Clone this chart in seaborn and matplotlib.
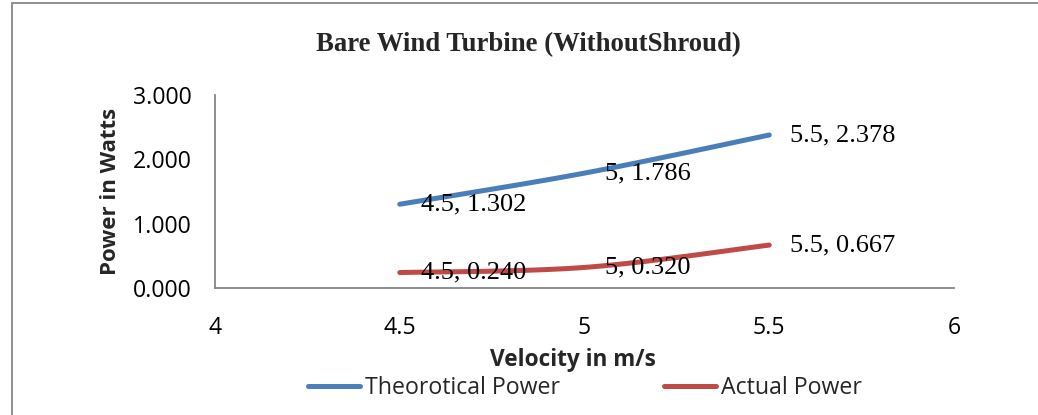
import numpy as np
import pandas as pd
import matplotlib
matplotlib.use("Agg")
import matplotlib.pyplot as plt
import seaborn as sns
from matplotlib.lines import Line2D
from matplotlib.patches import Rectangle

# ---- data ----
velocity = [4.5, 5.0, 5.5]
theoretical_power = [1.302, 1.786, 2.378]
actual_power = [0.240, 0.320, 0.667]
theoretical_labels = ["4.5, 1.302", "5, 1.786", "5.5, 2.378"]
actual_labels = ["4.5, 0.240", "5, 0.320", "5.5, 0.667"]
series_names = ["Theorotical Power", "Actual Power"]
x_ticks = [4, 4.5, 5, 5.5, 6]
x_tick_labels = ["4", "4.5", "5", "5.5", "6"]
y_ticks = [0, 1, 2, 3]
y_tick_labels = ["0.000", "1.000", "2.000", "3.000"]

BLUE = "#4A7EBB"
RED = "#BE4B48"
GRAY = "#868686"


def smooth(xs, ys, n=40):
    """Excel-style smoothed line rendering (Bezier through the data points)."""
    P = np.column_stack([xs, ys]).astype(float)
    ext = np.vstack([P[0], P, P[-1]])
    out = []
    t = np.linspace(0, 1, n)[:, None]
    for i in range(len(P) - 1):
        p0, p1 = P[i], P[i + 1]
        c1 = p0 + (ext[i + 2] - ext[i]) / 6.0
        c2 = p1 - (ext[i + 3] - ext[i + 1]) / 6.0
        seg = ((1 - t) ** 3) * p0 + 3 * ((1 - t) ** 2) * t * c1 + 3 * (1 - t) * t ** 2 * c2 + t ** 3 * p1
        out.append(seg if i == 0 else seg[1:])
    arr = np.vstack(out)
    return arr[:, 0], arr[:, 1]


sns.set_theme(style="white")
plt.rcParams["font.family"] = ["Open Sans", "DejaVu Sans"]

fig = plt.figure(figsize=(10.38, 4.15), dpi=100)
ax = fig.add_axes([215 / 1038, 1 - 288 / 415, (954 - 215) / 1038, (288 - 95) / 415])

frames = []
for name, ys in zip(series_names, [theoretical_power, actual_power]):
    sx, sy = smooth(velocity, ys)
    frames.append(pd.DataFrame({"x": sx, "y": sy, "series": name, "order": np.arange(len(sx))}))
df = pd.concat(frames, ignore_index=True)

sns.lineplot(data=df, x="x", y="y", hue="series", palette=[BLUE, RED], sort=False,
             linewidth=3.6, ax=ax, legend=False, solid_capstyle="round")

for ys, labs in [(theoretical_power, theoretical_labels), (actual_power, actual_labels)]:
    for xv, yv, lab in zip(velocity, ys, labs):
        ax.annotate(lab, (xv, yv), xytext=(15, 0), textcoords="offset points",
                    ha="left", va="center", fontsize=19, family="Liberation Serif", color="black")

ax.set_xlim(4, 6)
ax.set_ylim(0, 3)
ax.set_xticks(x_ticks)
ax.set_xticklabels(x_tick_labels)
ax.set_yticks(y_ticks)
ax.set_yticklabels(y_tick_labels)
ax.tick_params(axis="both", direction="out", length=7, width=1.3, color=GRAY,
               labelsize=16.7, labelcolor="black", pad=10)
ax.tick_params(axis="x", pad=13)
for s in ["top", "right"]:
    ax.spines[s].set_visible(False)
for s in ["left", "bottom"]:
    ax.spines[s].set_color(GRAY)
    ax.spines[s].set_linewidth(1.3)
ax.grid(False)

ax.set_xlabel("Velocity in m/s", fontsize=16.3, fontweight="bold")
ax.xaxis.label.set_va("center")
ax.xaxis.set_label_coords((573 - 215) / 739, (288 - 360) / 193)
ax.set_ylabel("Power in Watts", fontsize=16, fontweight="bold", labelpad=8)

fig.text(528 / 1038, 1 - 45 / 415, "Bare Wind Turbine (WithoutShroud)", ha="center", va="center",
         fontsize=19.3, fontweight="bold", family="Liberation Serif")

handles = [Line2D([0], [0], color=BLUE, lw=3.6, solid_capstyle="round"),
           Line2D([0], [0], color=RED, lw=3.6, solid_capstyle="round")]
fig.legend(handles, series_names, loc="center", bbox_to_anchor=(585 / 1038, 1 - 388 / 415),
           ncol=2, frameon=False, fontsize=16.7, handlelength=2.25, handletextpad=0.2,
           columnspacing=4.5, borderpad=0)

fig.patches.append(Rectangle((12 / 1038, -0.1), 1.2, 1 - 3 / 415 + 0.1, transform=fig.transFigure,
                             fill=False, edgecolor=GRAY, linewidth=1.3))

fig.savefig("out.png", dpi=100)
